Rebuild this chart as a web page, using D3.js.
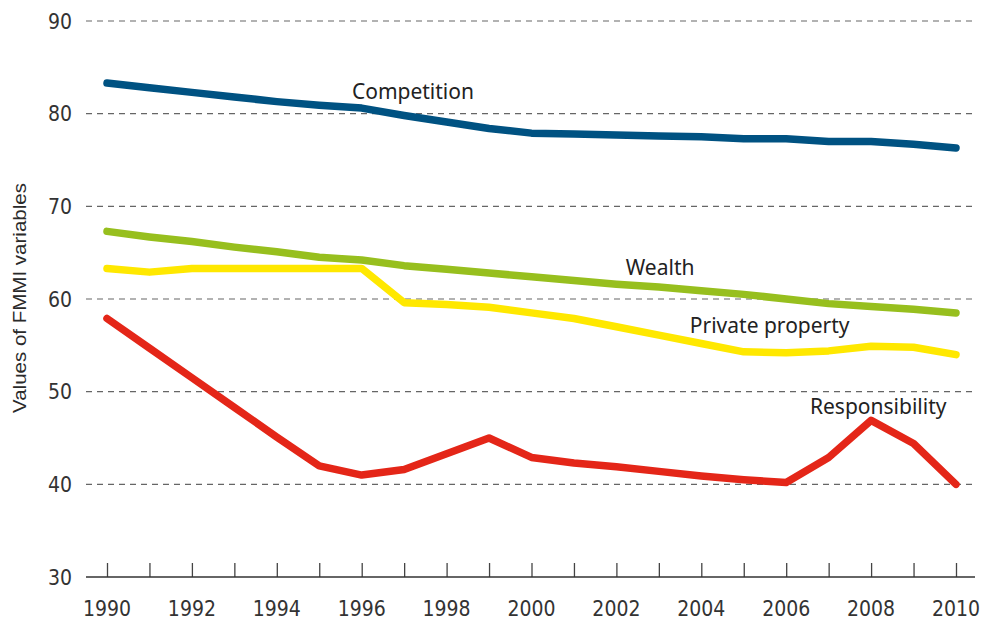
<!doctype html>
<html lang="en">
<head>
<meta charset="utf-8">
<title>FMMI variables 1990-2010</title>
<script src="https://cdn.jsdelivr.net/npm/d3@7/dist/d3.min.js"></script>
<style>
html, body { margin: 0; padding: 0; background: #fff; }
.tick-label { font-family: 'Liberation Sans Narrow', 'DejaVu Sans Condensed', sans-serif; font-size: 21px; fill: #333; }
.series-label { font-family: 'Noto Sans', sans-serif; font-size: 21px; fill: #222; }
.axis-title { font-family: 'Liberation Sans', Arial, sans-serif; font-size: 18px; fill: #2a2a2a; }
</style>
</head>
<body>
<svg id="chart" width="983" height="622"></svg>
<script>
// years on the x axis
const years = d3.range(1990, 2011);
const yTicks = [30, 40, 50, 60, 70, 80, 90];
const xTickLabels = [1990, 1992, 1994, 1996, 1998, 2000, 2002, 2004, 2006, 2008, 2010];

// series values
const competition = [83.3, 82.8, 82.3, 81.8, 81.3, 80.9, 80.6, 79.8, 79.1, 78.4, 77.9, 77.8, 77.7, 77.6, 77.5, 77.3, 77.3, 77.0, 77.0, 76.7, 76.3];
const wealth = [67.3, 66.7, 66.2, 65.6, 65.1, 64.5, 64.2, 63.6, 63.2, 62.8, 62.4, 62.0, 61.6, 61.3, 60.9, 60.5, 60.0, 59.5, 59.2, 58.9, 58.5];
const privateProperty = [63.3, 62.9, 63.3, 63.3, 63.3, 63.3, 63.3, 59.6, 59.4, 59.1, 58.5, 57.9, 57.0, 56.1, 55.2, 54.3, 54.2, 54.4, 54.9, 54.8, 54.0];
const responsibility = [57.9, 54.7, 51.5, 48.3, 45.1, 42.0, 41.0, 41.6, 43.3, 45.0, 42.9, 42.3, 41.9, 41.4, 40.9, 40.5, 40.2, 42.9, 46.9, 44.4, 40.0];

const seriesNames = ['Competition', 'Wealth', 'Private property', 'Responsibility'];
const seriesColors = ['#005282', '#97bf1e', '#ffe800', '#e42618'];
const seriesValues = [competition, wealth, privateProperty, responsibility];

const svg = d3.select('#chart');
const margin = {left: 86, right: 8, top: 21, bottom: 45};
const width = 983, height = 622;

const x = d3.scaleLinear().domain([1990, 2010]).range([107, 956]);
const y = d3.scaleLinear().domain([30, 90]).range([577, 21]);

// dashed gridlines
svg.append('g').selectAll('line')
  .data(yTicks.filter(d => d > 30))
  .enter().append('line')
  .attr('x1', margin.left).attr('x2', width - margin.right)
  .attr('y1', d => y(d)).attr('y2', d => y(d))
  .attr('stroke', '#666').attr('stroke-width', 1.2)
  .attr('stroke-dasharray', '6,5');

// y tick labels
svg.append('g').selectAll('text')
  .data(yTicks)
  .enter().append('text')
  .attr('class', 'tick-label')
  .attr('x', 72).attr('y', d => y(d))
  .attr('dy', '0.36em')
  .attr('text-anchor', 'end')
  .text(d => d);

// bottom axis
const xAxis = d3.axisBottom(x)
  .tickValues(years)
  .tickSize(-14)
  .tickFormat('');
const gx = svg.append('g').attr('transform', `translate(0,${y(30)})`).call(xAxis);
gx.select('.domain').remove();
gx.selectAll('.tick line').attr('stroke', '#444').attr('stroke-width', 1.3);
svg.append('line')
  .attr('x1', margin.left).attr('x2', width - margin.right)
  .attr('y1', y(30)).attr('y2', y(30))
  .attr('stroke', '#333').attr('stroke-width', 1.5);

svg.append('g').selectAll('text')
  .data(xTickLabels)
  .enter().append('text')
  .attr('class', 'tick-label')
  .attr('x', d => x(d)).attr('y', 616)
  .attr('text-anchor', 'middle')
  .text(d => d);

// y axis title
svg.append('text')
  .attr('class', 'axis-title')
  .attr('transform', `translate(26,298) rotate(-90)`)
  .attr('text-anchor', 'middle')
  .attr('textLength', 230)
  .attr('lengthAdjust', 'spacingAndGlyphs')
  .text('Values of FMMI variables');

// lines
const line = d3.line()
  .x((d, i) => x(years[i]))
  .y(d => y(d));

// draw bottom series first
[3, 2, 1, 0].forEach(k => {
  svg.append('path')
    .datum(seriesValues[k])
    .attr('fill', 'none')
    .attr('stroke', seriesColors[k])
    .attr('stroke-width', 7.5)
    .attr('stroke-linecap', 'round')
    .attr('stroke-linejoin', 'round')
    .attr('d', line);
});

// series labels (anchored by year / value)
const labelPos = [
  {year: 1995.77, val: 81.6},
  {year: 2002.22, val: 62.6},
  {year: 2003.73, val: 56.3},
  {year: 2006.56, val: 47.6}
];
svg.append('g').selectAll('text')
  .data(seriesNames)
  .enter().append('text')
  .attr('class', 'series-label')
  .attr('x', (d, i) => x(labelPos[i].year))
  .attr('y', (d, i) => y(labelPos[i].val))
  .text(d => d);
</script>
</body>
</html>
